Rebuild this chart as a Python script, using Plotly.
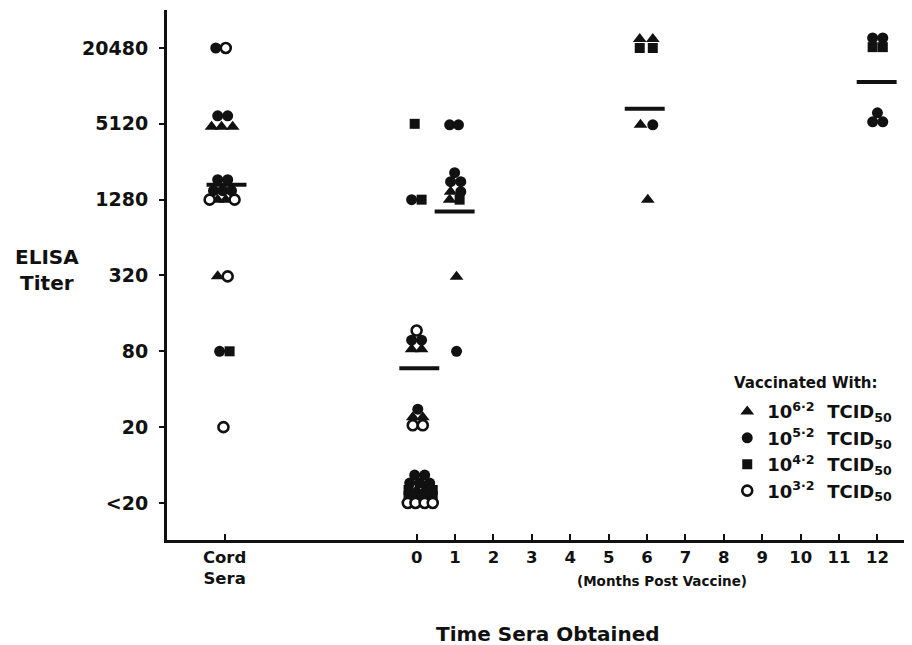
import plotly.graph_objects as go

# ---------------- data ----------------
y_tickvals = [5, 20, 80, 320, 1280, 5120, 20480]
y_ticktext = ["<20", "20", "80", "320", "1280", "5120", "20480"]
x_tickvals = [-5, 0, 1, 2, 3, 4, 5, 6, 7, 8, 9, 10, 11, 12]
x_ticktext = ["Cord<br>Sera", "0", "1", "2", "3", "4", "5", "6", "7", "8", "9", "10", "11", "12"]

# 10^6.2 TCID50 (filled triangles)
tri_x = [-5.34, -5.08, -4.79, -5.18, -4.97, -5.18,
         -0.13, 0.13, -0.10, 0.16, 0.00, 0.21,
         0.885, 0.86, 1.04,
         5.81, 6.15, 5.83, 6.02]
tri_y = [4850, 4850, 4850, 1280, 1280, 315,
         83, 83, 24, 24, 6.34, 6.34,
         1481, 1280, 312,
         24100, 24100, 5030, 1280]

# 10^5.2 TCID50 (filled circles)
cir_x = [-5.23, -5.18, -4.92, -5.18, -4.92, -5.29, -5.05, -4.82, -5.13,
         -0.13, -0.13, 0.13, 0.03, -0.05, 0.21, -0.18, 0.08, 0.34,
         0.86, 1.09, 0.99, 0.885, 1.15, 1.15, 1.04,
         6.15,
         11.875, 12.14, 12.0, 11.875, 12.14]
cir_y = [20480, 5925, 5925, 1843, 1843, 1508, 1508, 1508, 80,
         1280, 98, 98, 27.8, 8.33, 8.33, 7.2, 7.2, 7.2,
         5030, 5030, 2094, 1777, 1777, 1481, 80,
         5030,
         24580, 24580, 6257, 5310, 5310]

# 10^4.2 TCID50 (filled squares)
sq_x = [-4.87,
        -0.05, 0.13, -0.21, 0.42, -0.21, 0.00, 0.21, 0.42,
        1.12,
        5.81, 6.15,
        11.875, 12.14]
sq_y = [80,
        5120, 1280, 6.34, 6.34, 5.68, 5.68, 5.68, 5.68,
        1280,
        20480, 20480,
        20800, 20800]

# 10^3.2 TCID50 (open circles)
oc_x = [-4.97, -5.39, -4.74, -4.92, -5.03,
        0.00, -0.10, 0.16, -0.23, -0.03, 0.21, 0.42]
oc_y = [20480, 1280, 1280, 315, 20,
        117, 20.7, 20.7, 5, 5, 5, 5]

# geometric mean bars
mean_x = [-4.95, 0.07, 0.99, 5.94, 11.98]
mean_y = [1683, 58.7, 1029, 6731, 11008]

# ---------------- style ----------------
FONT = "'DejaVu Sans', sans-serif"
MEAN_HALF = 0.52
BLACK = "#111111"

fig = go.Figure()

# mean bars (behind markers)
mx, my = [], []
for cx, v in zip(mean_x, mean_y):
    mx += [cx - MEAN_HALF, cx + MEAN_HALF, None]
    my += [v, v, None]
fig.add_trace(go.Scatter(x=mx, y=my, mode="lines", line=dict(color=BLACK, width=4),
                         showlegend=False, hoverinfo="skip", cliponaxis=False))

series = [
    ("10<sup>6·2</sup>  TCID<sub>50</sub>", tri_x, tri_y,
     dict(symbol="triangle-up", size=12, color=BLACK, line=dict(width=0))),
    ("10<sup>5·2</sup>  TCID<sub>50</sub>", cir_x, cir_y,
     dict(symbol="circle", size=11, color=BLACK, line=dict(width=0))),
    ("10<sup>4·2</sup>  TCID<sub>50</sub>", sq_x, sq_y,
     dict(symbol="square", size=10, color=BLACK, line=dict(width=0))),
    ("10<sup>3·2</sup>  TCID<sub>50</sub>", oc_x, oc_y,
     dict(symbol="circle", size=10, color="white", line=dict(width=2.6, color=BLACK))),
]
for name, xs, ys, mk in series:
    fig.add_trace(go.Scatter(x=xs, y=ys, mode="markers", name=name, marker=mk,
                             cliponaxis=False, legendgroup=name))

fig.update_layout(
    width=904, height=637,
    margin=dict(l=159, r=0, t=2, b=105),
    paper_bgcolor="white", plot_bgcolor="white",
    font=dict(family=FONT, color=BLACK, size=16, weight="bold"),
    showlegend=True,
    legend=dict(
        x=0.752, y=0.277, xanchor="left", yanchor="top",
        bgcolor="rgba(0,0,0,0)",
        font=dict(family=FONT, size=18, color=BLACK, weight="bold"),
        itemwidth=30, tracegroupgap=0,
    ),
    xaxis=dict(
        range=[-6.5, 12.9], showgrid=False, zeroline=False,
        showline=True, linecolor=BLACK, linewidth=3,
        tickmode="array", tickvals=x_tickvals, ticktext=x_ticktext,
        ticks="inside", ticklen=6, tickwidth=2, tickcolor=BLACK,
        tickfont=dict(family=FONT, size=16.5, color=BLACK, weight="bold"),
    ),
    yaxis=dict(
        type="log", range=[0.405, 4.613], showgrid=False, zeroline=False,
        showline=True, linecolor=BLACK, linewidth=3,
        tickmode="array", tickvals=y_tickvals, ticktext=y_ticktext,
        ticks="outside", ticklen=5, tickwidth=2, tickcolor=BLACK,
        ticklabelstandoff=7,
        tickfont=dict(family=FONT, size=19, color=BLACK, weight="bold"),
    ),
    annotations=[
        dict(text="ELISA<br>Titer", xref="paper", yref="paper", x=-0.161, y=0.51,
             xanchor="center", yanchor="middle", showarrow=False,
             font=dict(family=FONT, size=20, color=BLACK, weight="bold")),
        dict(text="Vaccinated With:", xref="paper", yref="paper", x=0.758, y=0.297,
             xanchor="left", yanchor="middle", showarrow=False,
             font=dict(family=FONT, size=15, color=BLACK, weight="bold")),
        dict(text="(Months Post Vaccine)", xref="x", yref="paper", x=6.4, y=-0.078,
             xanchor="center", yanchor="middle", showarrow=False,
             font=dict(family=FONT, size=13.5, color=BLACK, weight="bold")),
        dict(text="Time Sera Obtained", xref="paper", yref="paper", x=0.511, y=-0.177,
             xanchor="center", yanchor="middle", showarrow=False,
             font=dict(family=FONT, size=20, color=BLACK, weight="bold")),
    ],
)

fig.write_html("out.html")
